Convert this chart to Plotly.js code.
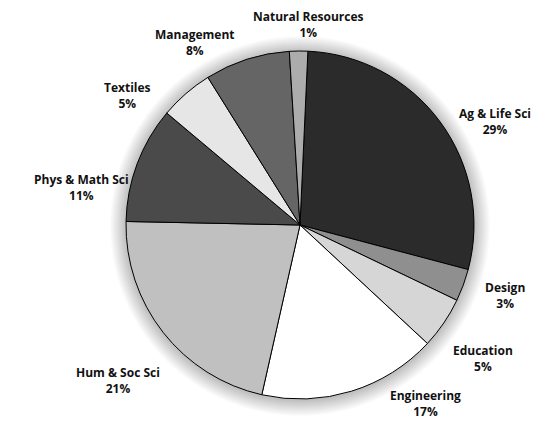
<!DOCTYPE html>
<html>
<head>
<meta charset="utf-8">
<script src="https://cdn.plot.ly/plotly-3.0.1.min.js"></script>
<style>
  html, body { margin: 0; padding: 0; background: #fff; }
  #chart { width: 545px; height: 423px; }
</style>
</head>
<body>
<div id="chart"></div>
<script>
// Categories, clockwise from the top
const categories = ["Ag & Life Sci", "Design", "Education", "Engineering", "Hum & Soc Sci",
                    "Phys & Math Sci", "Textiles", "Management", "Natural Resources"];
// Slice shares (percent)
const shares = [28.4, 3.0, 4.8, 16.6, 21.8, 10.8, 5.0, 7.9, 1.7];
// Percentages printed on the labels
const pctLabels = ["29%", "3%", "5%", "17%", "21%", "11%", "5%", "8%", "1%"];
const colors = ["#2b2b2b", "#8f8f8f", "#d6d6d6", "#ffffff", "#c0c0c0",
                "#4a4a4a", "#e6e6e6", "#656565", "#acacac"];

// Label positions (pixels in the 545x423 canvas)
const labelPos = [[495, 122], [505, 295], [483, 358], [425, 403], [118, 380],
                  [81, 187], [127, 95], [195, 42], [308, 25]];

const W = 545, H = 423;
const CX = 300, CY = 225, R = 174;

const annotations = categories.map((c, i) => ({
  xref: 'paper', yref: 'paper',
  x: labelPos[i][0] / W, y: 1 - labelPos[i][1] / H,
  xanchor: 'center', yanchor: 'middle',
  text: '<b>' + c + '</b><br><b>' + pctLabels[i] + '</b>',
  showarrow: false,
  align: 'center',
  font: { family: 'Open Sans, sans-serif', size: 12, color: '#111' }
}));

// soft glow/shadow around the pie (decoration)
const shapes = [];
for (let k = 1; k <= 16; k++) {
  const r = R + k * 1.0;
  shapes.push({
    type: 'circle', xref: 'paper', yref: 'paper', layer: 'below',
    x0: (CX - r) / W, x1: (CX + r) / W,
    y0: 1 - (CY + 1 + r) / H, y1: 1 - (CY + 1 - r) / H,
    fillcolor: 'rgba(0,0,0,0.014)', line: { width: 0 }
  });
}

const trace = {
  type: 'pie',
  labels: categories,
  values: shares,
  sort: false,
  direction: 'clockwise',
  rotation: 2.6,
  textinfo: 'none',
  hoverinfo: 'label+percent',
  marker: { colors: colors, line: { color: '#000', width: 1 } },
  domain: { x: [(CX - R) / W, (CX + R) / W], y: [1 - (CY + R) / H, 1 - (CY - R) / H] },
  showlegend: false
};

const layout = {
  width: W, height: H,
  margin: { l: 0, r: 0, t: 0, b: 0 },
  paper_bgcolor: '#fff',
  showlegend: false,
  annotations: annotations,
  shapes: shapes
};

Plotly.newPlot('chart', [trace], layout, { displayModeBar: false, staticPlot: true });
</script>
</body>
</html>
